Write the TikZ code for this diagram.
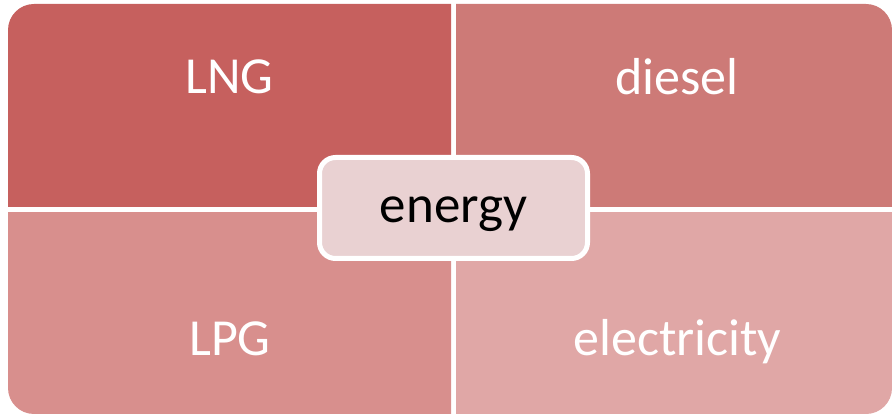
\documentclass[tikz,border=0pt]{standalone}
\usepackage{fontspec}
\setmainfont{Carlito}
\definecolor{qlng}{RGB}{198,96,94}
\definecolor{qdiesel}{RGB}{205,122,119}
\definecolor{qlpg}{RGB}{216,143,141}
\definecolor{qelec}{RGB}{224,167,166}
\definecolor{hubfill}{RGB}{233,209,210}
\begin{document}
\begin{tikzpicture}[x=1pt,y=-1pt,
  quadtext/.style={anchor=base,text=white,font=\fontsize{52}{60}\selectfont,inner sep=0pt},
  outline/.style={rounded corners=26pt},
  hub/.style={draw=white,line width=5pt,fill=hubfill,rounded corners=16pt,
    minimum width=268pt,minimum height=101pt,inner sep=0pt}]
\useasboundingbox (0,0) rectangle (892,414);
% four quadrants cut from one rounded block, so only outer corners are round
\begin{scope}
  \clip (8,4) rectangle (451,207);
  \fill[qlng,outline] (8,4) rectangle (892,414);
\end{scope}
\begin{scope}
  \clip (456,4) rectangle (892,207);
  \fill[qdiesel,outline] (8,4) rectangle (892,414);
\end{scope}
\begin{scope}
  \clip (8,213) rectangle (451,414);
  \fill[qlpg,outline] (8,4) rectangle (892,414);
\end{scope}
\begin{scope}
  \clip (456,213) rectangle (892,414);
  \fill[qelec,outline] (8,4) rectangle (892,414);
\end{scope}
% labels
\node[quadtext] (lng) at (229.5,94) {LNG};
\node[quadtext] (diesel) at (677,95) {diesel};
\node[quadtext] (lpg) at (230,355) {LPG};
\node[quadtext] (elec) at (677.5,355) {electricity};
% central hub
\node[hub] (hub) at (453.5,208) {};
\node[anchor=base,font=\fontsize{53}{60}\selectfont,inner sep=0pt] (energy) at (453.5,223) {energy};
\end{tikzpicture}
\end{document}
